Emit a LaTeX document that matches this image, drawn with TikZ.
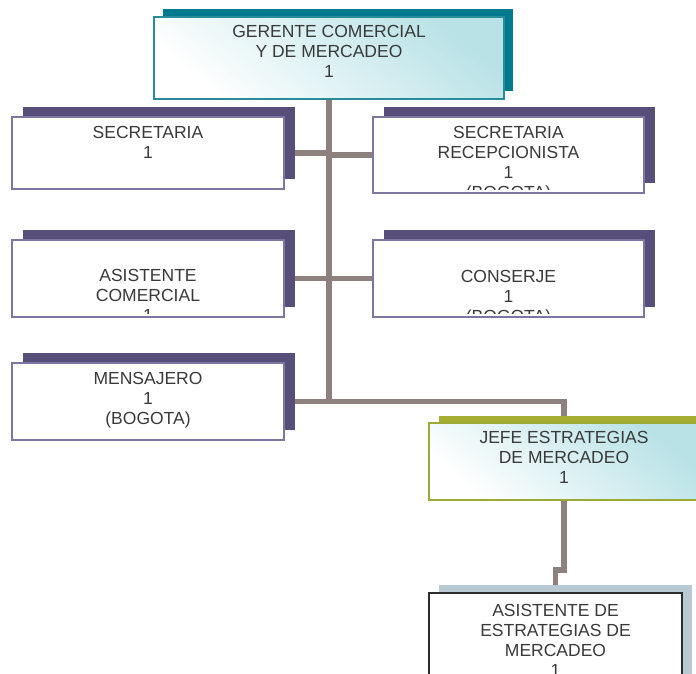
\documentclass[tikz,border=0pt]{standalone}
\usepackage{fontspec}
\setmainfont{Liberation Sans}
\usetikzlibrary{shadows}
\definecolor{connc}{RGB}{142,129,125}
\definecolor{txtc}{RGB}{58,58,58}
\definecolor{purpShadow}{RGB}{87,79,122}
\definecolor{purpBorder}{RGB}{125,118,160}
\definecolor{tealShadow}{RGB}{0,122,140}
\definecolor{tealBorder}{RGB}{40,140,155}
\definecolor{tealLight}{RGB}{184,226,230}
\definecolor{oliveShadow}{RGB}{165,174,50}
\definecolor{oliveBorder}{RGB}{155,170,55}
\definecolor{blueShadow}{RGB}{183,202,212}
\definecolor{darkBorder}{RGB}{45,45,45}
\pgfdeclarelayer{bg}
\pgfsetlayers{bg,main}
\newcommand\boxlabel[3]{%
  \begin{scope}
    \clip ([shift={(2pt,3.5pt)}]#1.south west) rectangle ([shift={(-2pt,-2pt)}]#1.north east);
    \node[lbl] (#1T) at (#1.north |- 0,#2) {#3};
  \end{scope}}
\tikzset{
  boxbase/.style={rectangle, inner sep=0pt, outer sep=0pt},
  pbox/.style={boxbase, line width=1.5pt, draw=purpBorder, fill=white,
    general shadow={fill=purpShadow, draw=none, shadow xshift=11pt, shadow yshift=10pt}},
  topbox/.style={boxbase, line width=2pt, draw=tealBorder,
    top color=tealLight, bottom color=white, shading angle=-40,
    general shadow={fill=tealShadow, draw=none, shadow xshift=9pt, shadow yshift=8pt}},
  jbox/.style={boxbase, line width=2pt, draw=oliveBorder,
    top color=tealLight, bottom color=white, shading angle=-40,
    general shadow={fill=oliveShadow, draw=none, shadow xshift=10pt, shadow yshift=7pt}},
  abox/.style={boxbase, line width=1.5pt, draw=darkBorder, fill=white,
    general shadow={fill=blueShadow, draw=none, shadow xshift=10pt, shadow yshift=8pt}},
  lbl/.style={anchor=north, inner sep=0pt, align=center, text=txtc,
    font=\fontsize{17.5}{20}\selectfont, execute at begin node=\strut},
  conn/.style={draw=connc, line width=5.5pt}
}
\begin{document}
\begin{tikzpicture}[x=1pt,y=-1pt]
\useasboundingbox (0,0) rectangle (696,673);
\clip (0,0) rectangle (696,673);
% boxes
\node[topbox, minimum width=350pt, minimum height=82pt] (ger) at (329,58) {};
\node[pbox, minimum width=272pt, minimum height=72pt] (sec) at (148,153) {};
\node[pbox, minimum width=271pt, minimum height=76pt] (rec) at (508.5,155) {};
\node[pbox, minimum width=272pt, minimum height=77pt] (asi) at (148,278.5) {};
\node[pbox, minimum width=271pt, minimum height=77pt] (con) at (508.5,278.5) {};
\node[pbox, minimum width=272pt, minimum height=77pt] (men) at (148,401.5) {};
\node[jbox, minimum width=270pt, minimum height=77pt] (jef) at (564,461.5) {};
\node[abox, minimum width=253pt, minimum height=90pt] (ade) at (555.5,638) {};
% labels
\boxlabel{ger}{25}{GERENTE COMERCIAL\\Y DE MERCADEO\\1}
\boxlabel{sec}{125.8}{SECRETARIA\\1}
\boxlabel{rec}{125.8}{SECRETARIA\\RECEPCIONISTA\\1\\(BOGOTA)}
\boxlabel{asi}{269}{ASISTENTE\\COMERCIAL\\1}
\boxlabel{con}{269.8}{CONSERJE\\1\\(BOGOTA)}
\boxlabel{men}{371.8}{MENSAJERO\\1\\(BOGOTA)}
\boxlabel{jef}{430.8}{JEFE ESTRATEGIAS\\DE MERCADEO\\1}
\boxlabel{ade}{603.8}{ASISTENTE DE\\ESTRATEGIAS DE\\MERCADEO\\1}
% connectors
\begin{pgfonlayer}{bg}
\fill[white] (0,0) rectangle (696,673);
\draw[conn] (ger.south) -- (ger.south |- men.east);
\draw[conn] (sec.east) -- (sec.east -| ger.south);
\draw[conn] (rec.west) -- (rec.west -| ger.south);
\draw[conn] (asi.east) -- (con.west);
\draw[conn] (men.east) -| (jef.north);
\draw[conn] (jef.south) -- ++(0,70) -| (ade.north);
\end{pgfonlayer}
\end{tikzpicture}
\end{document}
